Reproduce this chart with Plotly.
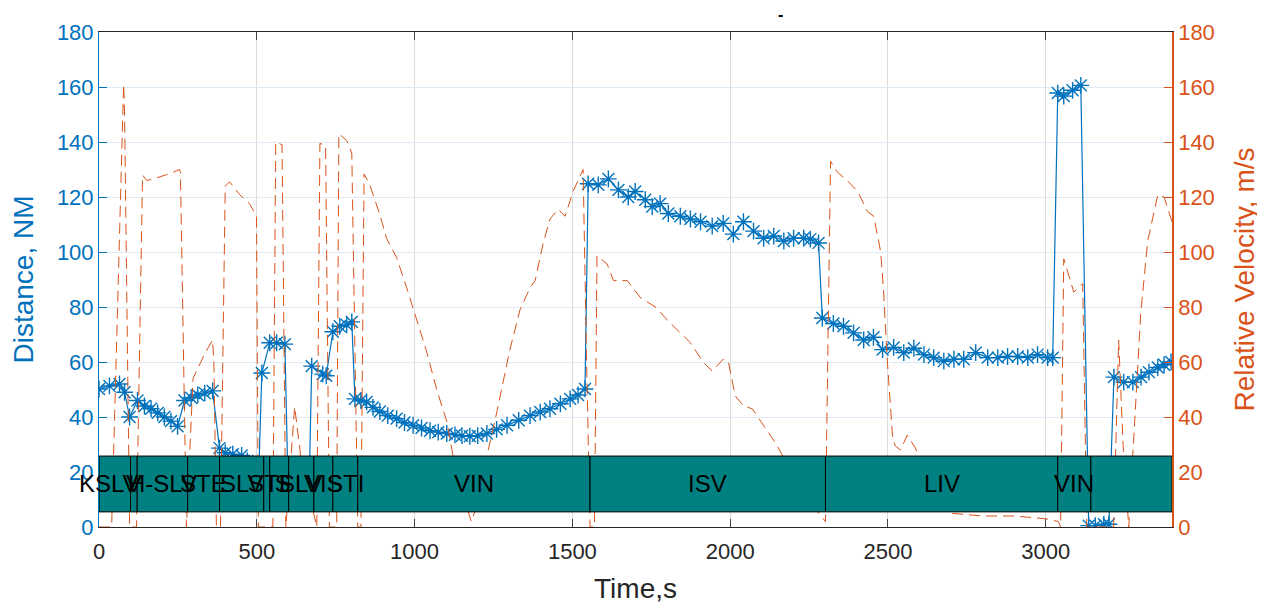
import plotly.graph_objects as go

# ---- Distance (left axis, NM) ----
dist_t = [0, 33, 65, 81, 97, 122, 144, 165, 186, 207, 228, 249,
          271, 292, 313, 335, 360, 382, 400, 424, 452, 470, 490, 505,
          516, 541, 563, 589, 600, 620, 645, 665,
          674, 709, 720, 741, 763, 785, 801,
          811, 830, 848, 868, 890, 915, 943, 968, 995, 1022, 1049, 1075, 1102, 1128, 1150,
          1175, 1200, 1229, 1260, 1293, 1330, 1366, 1398, 1429, 1462, 1493, 1518, 1540,
          1550, 1582, 1614, 1646, 1677, 1699, 1731, 1753, 1778, 1804, 1842, 1874, 1906,
          1943, 1978, 2010, 2042, 2074, 2106, 2138, 2170, 2201, 2233, 2254, 2280,
          2292, 2327, 2359, 2391, 2423, 2454, 2483, 2518, 2550, 2582, 2614, 2645, 2677,
          2709, 2740, 2778, 2816, 2848, 2879, 2911, 2943, 2974, 3006, 3022,
          3038, 3057, 3085, 3111,
          3136, 3157, 3184, 3200,
          3216, 3247, 3276, 3302, 3327, 3355, 3375, 3397]
dist_nm = [50.2, 51.3, 52, 49, 40, 46, 44, 43, 41.5, 40, 38.5, 36.6,
           46, 47, 48, 48.7, 49.5, 28.7, 27, 26.5, 26, 24, 22, 15,
           56, 67, 67, 66.5, 10, 10, 10, 10,
           58.5, 55.6, 55, 71, 73, 73.5, 74.6,
           46.6, 46, 45.5, 43.5, 42, 40.5, 39.4, 38, 37, 36, 35, 34.5, 34, 33.5, 33.2,
           33, 33.2, 34, 35.5, 37, 38.8, 40.5, 41.8, 43, 44.8, 46.6, 48, 50.2,
           124.8, 124.4, 126.6, 122.6, 120, 122, 119, 116.5, 117.6, 114, 113, 112, 111,
           109.4, 110.4, 106.5, 111, 107.6, 105, 105.8, 104, 105, 105, 104.7, 103.3,
           76, 74, 73, 70.6, 68, 69, 64.5, 65.3, 63.4, 65, 62.7, 61.6, 60.3,
           61, 61, 63.4, 61.6, 61.6, 62, 62, 61.6, 62.7, 61.6, 61.6,
           157.8, 156.7, 158.8, 160.6,
           0.5, 0.5, 1, 1,
           54.5, 52.7, 52.7, 54.5, 56.3, 58, 59, 60]

# ---- Relative velocity (right axis, m/s) ----
vel_t = [0, 40, 78, 81, 97, 119, 138, 151, 176, 224, 255, 258, 277,
         298, 335, 360, 364, 372, 385, 400, 414, 446, 477, 499, 505,
         551, 560, 580, 592, 608, 620, 640, 690, 700, 718, 730,
         753, 760, 785, 801, 820, 830, 840, 858, 890, 911, 943, 975, 1007, 1039, 1070,
         1102, 1122, 1150, 1180, 1210, 1229, 1261, 1302, 1334, 1366, 1382, 1407, 1429,
         1455, 1477, 1502, 1534, 1545, 1556, 1570, 1578, 1610, 1630, 1674, 1715, 1768,
         1800, 1842, 1874, 1915, 1943, 1978, 1994, 2016, 2042, 2070, 2106, 2148, 2170,
         2230, 2280, 2302, 2318, 2340, 2371, 2404, 2435, 2455, 2477, 2486, 2497, 2515,
         2524, 2540, 2561, 2587, 2650, 2700, 2800, 2900, 3000, 3040, 3047, 3057, 3089,
         3117, 3130, 3200, 3215, 3231, 3245, 3263, 3301, 3323, 3355, 3375, 3400]
vel_ms = [0, 0, 161, 151, 0, 0, 128, 126, 126.7, 128.5, 130, 129, 0,
          54, 63, 68, 60, 0, 0, 124, 125.5, 120.8, 117.6, 113, 0,
          0, 140, 139, 0, 25, 43.7, 25, 0, 139.5, 138.7, 0,
          0, 143, 140.5, 136, 0, 0, 128.4, 124.4, 113.6, 105, 98, 87, 75, 63.4, 50,
          38.4, 25.8, 12, 2, 12, 25.8, 42, 64.5, 79, 87, 89.6, 103, 112,
          115.5, 113, 122, 130, 60, 0, 0, 98.6, 95.7, 89.6, 89.6, 83.5, 79.6,
          75.3, 70.6, 67, 59.9, 56.7, 61, 60.2, 47.7, 44, 43, 37, 29.8, 25,
          12, 5, 2, 133, 129, 126, 122, 114.7, 113, 100, 86, 62, 32,
          29.4, 28, 33.4, 28.7, 10, 5, 4, 4, 3, 2, 0, 97.5, 85.4,
          88.5, 0, 0, 0, 68, 30, 0, 77.8, 104, 120.8, 120, 111]

# ---- Route segments (band) ----
seg_start = [-36, 100, 121, 281, 382, 522, 541, 601, 681, 741, 820, 1556, 2302, 3038, 3143]
seg_end = [100, 121, 281, 382, 522, 541, 601, 681, 741, 820, 1556, 2302, 3038, 3143, 3400]
seg_labels = ["KSLV", "V", "H-SLV", "STE", "SLV", "STI", "IS", "SLV", "VIS", "STI",
              "VIN", "ISV", "LIV", "VIN", ""]
band_low = 5.5
band_high = 25.8

x_ticks = [0, 500, 1000, 1500, 2000, 2500, 3000]
y_ticks = list(range(0, 181, 20))

BLUE = "#0072BD"
ORANGE = "#D95319"
FONT = "Liberation Sans, Arial, sans-serif"

# page body has an 8px margin; compensate so plot area lands where the reference has it
ML, MR, MT, MB = 91, 101, 20, 80
W, H = 1265, 602
PH = H - MT - MB

fig = go.Figure()
fig.add_trace(go.Scatter(
    x=dist_t, y=dist_nm, mode="lines+markers", yaxis="y",
    line=dict(color=BLUE, width=1.2),
    marker=dict(symbol="asterisk-open", size=14, color=BLUE, line=dict(color=BLUE, width=1.4)),
    showlegend=False, cliponaxis=True))
fig.add_trace(go.Scatter(
    x=vel_t, y=vel_ms, mode="lines", yaxis="y2",
    line=dict(color=ORANGE, width=1, dash="11px,6px"),
    showlegend=False))

shapes = []
annotations = []
for s, e, lab in zip(seg_start, seg_end, seg_labels):
    shapes.append(dict(type="rect", xref="x", yref="y", x0=max(s, 0), x1=e,
                       y0=band_low, y1=band_high, fillcolor="#008080",
                       line=dict(color="black", width=1), layer="above"))
    if lab:
        annotations.append(dict(x=(s + e) / 2, y=(band_low + band_high) / 2, xref="x", yref="y",
                                text=lab, showarrow=False,
                                font=dict(family=FONT, size=24, color="black")))

# tiny title mark above the plot
annotations.append(dict(x=(780 - 8 - ML) / (W - ML - MR), y=1 + 18 / PH,
                        xref="paper", yref="paper", text="<b>-</b>", yanchor="middle",
                        showarrow=False, font=dict(family=FONT, size=16, color="black")))

fig.update_layout(
    width=W, height=H,
    margin=dict(l=ML, r=MR, t=MT, b=MB),
    paper_bgcolor="white", plot_bgcolor="white",
    font=dict(family=FONT, size=22, color="#262626"),
    shapes=shapes, annotations=annotations,
    xaxis=dict(range=[0, 3400], tickvals=x_ticks, ticks="inside", ticklen=8,
               showline=True, linecolor="#262626", linewidth=1, mirror="ticks",
               showgrid=True, gridcolor="#dcdcdc", gridwidth=1, zeroline=False,
               tickfont=dict(size=22, color="#262626"), ticklabelstandoff=5,
               title=dict(text="Time,s", font=dict(size=28, color="#262626"), standoff=14)),
    yaxis=dict(range=[0, 180], tickvals=y_ticks, ticks="inside", ticklen=8,
               showline=True, linecolor=BLUE, linewidth=1, tickcolor=BLUE,
               showgrid=True, gridcolor="#deeaf5", gridwidth=1, zeroline=False,
               tickfont=dict(size=22, color=BLUE),
               title=dict(text="Distance, NM", font=dict(size=28, color=BLUE), standoff=16)),
    yaxis2=dict(range=[0, 180], tickvals=y_ticks, ticks="inside", ticklen=8,
                overlaying="y", side="right",
                showline=True, linecolor=ORANGE, linewidth=1.5, tickcolor=ORANGE,
                showgrid=False, zeroline=False,
                tickfont=dict(size=22, color=ORANGE),
                title=dict(text="Relative Velocity, m/s", font=dict(size=28, color=ORANGE), standoff=21)),
)

fig.write_html("out.html")
